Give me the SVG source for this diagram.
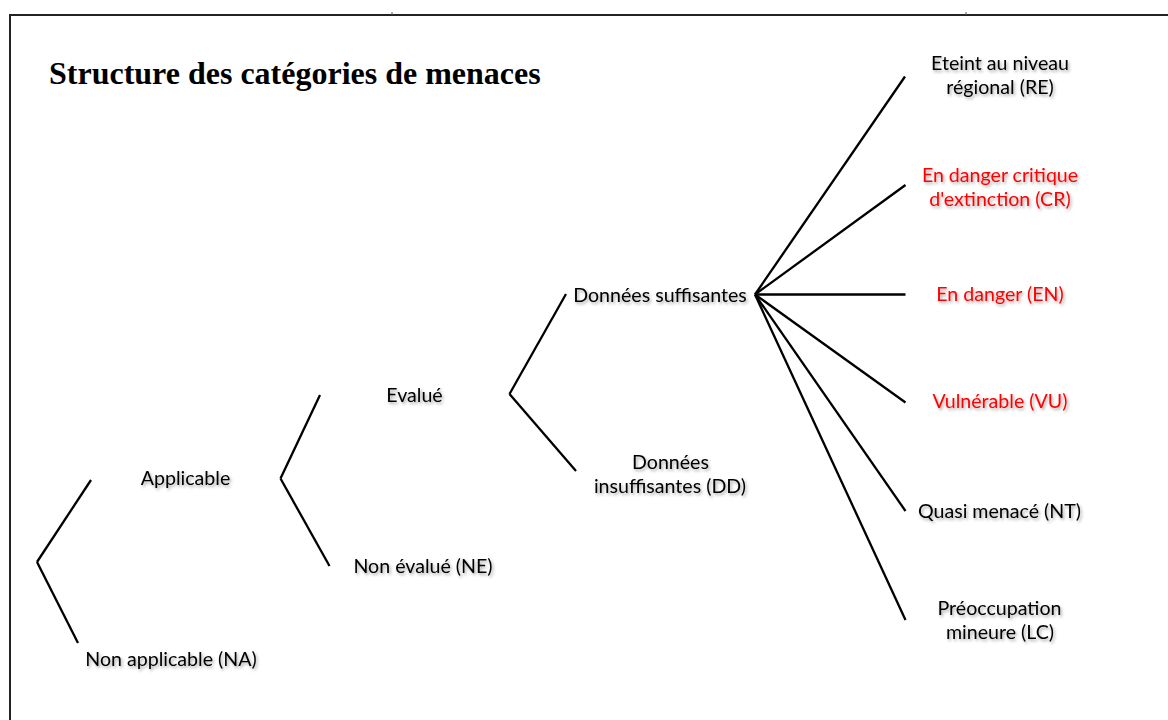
<svg xmlns="http://www.w3.org/2000/svg" width="1168" height="720" viewBox="0 0 1168 720">
  <defs>
    <filter id="shadow" x="-10%" y="-30%" width="130%" height="180%">
      <feDropShadow dx="1.5" dy="2" stdDeviation="1.6" flood-color="#000" flood-opacity="0.35"/>
    </filter>
    <style>
      .lbl { font-family: Lato, "Open Sans", sans-serif; font-size: 19.6px; fill: #000; text-anchor: middle; filter: url(#shadow); }
      .red { fill: #ff0000; }
      .title { font-family: "Liberation Serif", "Times New Roman", serif; font-size: 32px; font-weight: bold; fill: #000; }
      .conn line { stroke: #000; stroke-width: 2.3; stroke-linecap: butt; fill: none; }
      .frame { fill: none; stroke: #222; stroke-width: 2; }
    </style>
  </defs>
  <rect width="1168" height="720" fill="#fff"/>
  <rect class="frame" x="10" y="15" width="1170" height="720"/>
  <line x1="392" y1="12" x2="392" y2="15" stroke="#555" stroke-width="1"/>
  <line x1="966" y1="12" x2="966" y2="15" stroke="#555" stroke-width="1"/>

  <text class="title" x="49" y="84">Structure des catégories de menaces</text>

  <g id="connectors" class="conn">
    <line x1="91" y1="480" x2="37" y2="562"/>
    <line x1="37" y1="562" x2="78" y2="643"/>
    <line x1="320" y1="395" x2="280.5" y2="478.5"/>
    <line x1="280.5" y1="478.5" x2="329.5" y2="566"/>
    <line x1="566" y1="294" x2="509.5" y2="394"/>
    <line x1="509.5" y1="394" x2="576" y2="471"/>
    <line x1="755" y1="294.5" x2="905" y2="76.5"/>
    <line x1="755" y1="294.5" x2="905.5" y2="185"/>
    <line x1="755" y1="294.5" x2="905.5" y2="294.5"/>
    <line x1="755" y1="294.5" x2="905.5" y2="402.5"/>
    <line x1="755" y1="294.5" x2="905.5" y2="511"/>
    <line x1="755" y1="294.5" x2="905.5" y2="620"/>
  </g>

  <g id="node-na"><text class="lbl" x="171" y="666">Non applicable (NA)</text></g>
  <g id="node-applicable"><text class="lbl" x="185.5" y="485">Applicable</text></g>
  <g id="node-evalue"><text class="lbl" x="414.5" y="402">Evalué</text></g>
  <g id="node-ne"><text class="lbl" x="423" y="573">Non évalué (NE)</text></g>
  <g id="node-suff"><text class="lbl" x="660" y="302">Données suffisantes</text></g>
  <g id="node-dd"><text class="lbl" x="670.5" y="468.5">Données</text><text class="lbl" x="670" y="492.5">insuffisantes (DD)</text></g>
  <g id="node-re"><text class="lbl" x="1000" y="70">Eteint au niveau</text><text class="lbl" x="1000" y="94">régional (RE)</text></g>
  <g id="node-cr"><text class="lbl red" x="1000" y="181.5">En danger critique</text><text class="lbl red" x="1000" y="205.5">d'extinction (CR)</text></g>
  <g id="node-en"><text class="lbl red" x="1000" y="301">En danger (EN)</text></g>
  <g id="node-vu"><text class="lbl red" x="1000" y="408">Vulnérable (VU)</text></g>
  <g id="node-nt"><text class="lbl" x="999.5" y="518">Quasi menacé (NT)</text></g>
  <g id="node-lc"><text class="lbl" x="999.5" y="614.5">Préoccupation</text><text class="lbl" x="1000" y="638.5">mineure (LC)</text></g>
</svg>
